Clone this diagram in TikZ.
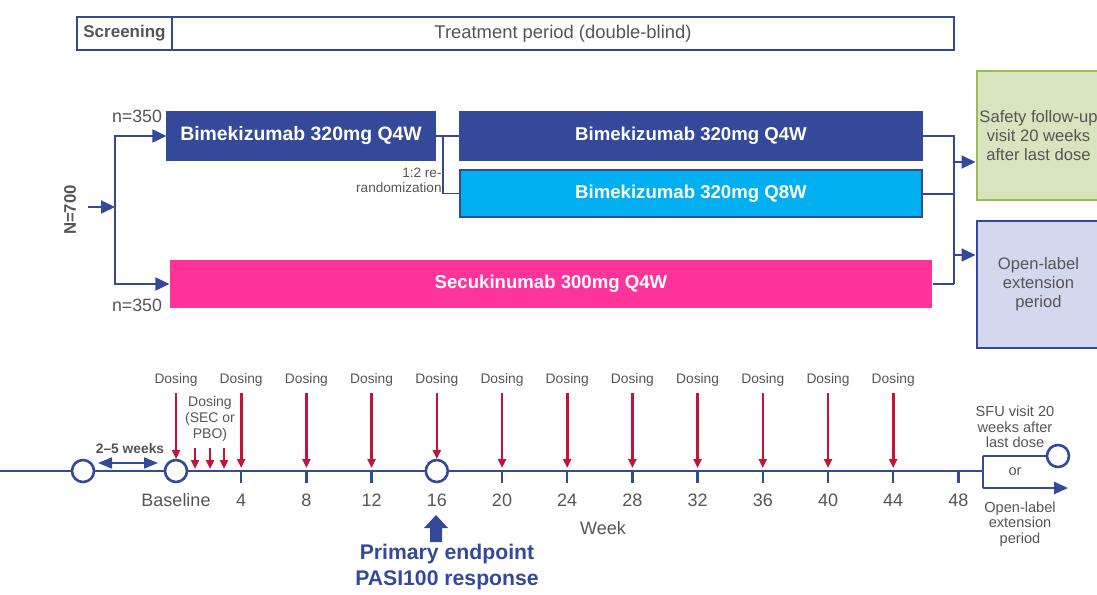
\documentclass[tikz,border=0pt]{standalone}
\usepackage{fontspec}
\setmainfont{Liberation Sans}
\usetikzlibrary{arrows.meta}

\definecolor{navy}{HTML}{34499A}
\definecolor{armcyan}{HTML}{00B0F0}
\definecolor{armpink}{HTML}{FF3399}
\definecolor{sfugreen}{HTML}{D7E4BD}
\definecolor{sfuedge}{HTML}{9BBB59}
\definecolor{olelilac}{HTML}{D3D8EF}
\definecolor{txtgray}{HTML}{555555}
\definecolor{dosered}{HTML}{C0143C}

\newcommand{\fs}[2]{\fontsize{#1}{#2}\selectfont}

\begin{document}
\begin{tikzpicture}[x=0.5pt, y=-0.5pt, >={Triangle[length=7pt,width=6.5pt]},
	every node/.style={text=txtgray, inner sep=0pt, align=center},
	hdrbox/.style={draw=navy, line width=0.7pt, minimum height=16.5pt},
	armbox/.style={draw=navy, line width=0.6pt, text=white, font=\bfseries\fs{9.3}{11}, minimum height=24pt},
	sidebox/.style={line width=1pt, minimum width=62pt, font=\fs{8.3}{9.5}},
	flow/.style={draw=navy, line width=1pt},
	tl/.style={draw=navy, line width=1.2pt},
	dose/.style={-{Triangle[length=4.5pt,width=4pt]}, draw=dosered, line width=1.3pt},
	dosetxt/.style={font=\fs{6.9}{8}},
	wklbl/.style={font=\fs{9}{10}},
	visit/.style={circle, draw=navy, line width=1.3pt, fill=white, minimum size=11pt}]
	\useasboundingbox (0,0) rectangle (1097,594);

	% header bar
	\node[hdrbox, minimum width=47.5pt, font=\bfseries\fs{8.5}{10}] (scr) at (124.5,33.5) {Screening};
	\node[hdrbox, minimum width=391pt, font=\fs{9.2}{11}] (trt) at (563,33.5) {Treatment period (double-blind)};

	% treatment arms
	\node[armbox, fill=navy, minimum width=134pt, font=\bfseries\fs{9.7}{11}] (bkA) at (301,136) {Bimekizumab 320mg Q4W};
	\node[armbox, fill=navy, minimum width=231pt] (bkB) at (691,136) {Bimekizumab 320mg Q4W};
	\node[armbox, fill=armcyan, minimum width=231pt, minimum height=23.5pt] (bkC) at (691,193.5) {Bimekizumab 320mg Q8W};
	\node[armbox, draw=none, fill=armpink, minimum width=381pt] (secu) at (551,284) {Secukinumab 300mg Q4W};

	\node[sidebox, draw=sfuedge, fill=sfugreen, minimum height=64.5pt] (sfu) at (1038.5,135.5) {Safety follow-up\\visit 20 weeks\\after last dose};
	\node[sidebox, draw=navy, fill=olelilac, minimum height=63.5pt] (ole) at (1038.5,284.5) {Open-label\\extension\\period};

	% randomisation
	\node[rotate=90, font=\bfseries\fs{8.4}{10}] (ntot) at (70,210) {N=700};
	\node[font=\fs{8.9}{10}] (nA) at (137,116) {n=350};
	\node[font=\fs{8.9}{10}] (nB) at (137,305) {n=350};
	\coordinate (split) at (115,207);
	\draw[flow, ->] (88,207) -- (split);
	\draw[flow, ->] (split) |- (bkA.west);
	\draw[flow, ->] (split) |- (secu.west);

	\node[anchor=east, align=right, font=\fs{6.8}{7.5}] (rerand) at (442,180) {1:2 re-\\randomization};
	\draw[flow, line width=0.8pt] (bkA.east) -- (bkB.west);
	\draw[flow, line width=0.8pt] (443,136) |- (bkC.west);

	\coordinate (merge) at (954,136);
	\draw[flow] (bkB.east) -- (merge) -- (954,284);
	\draw[flow] (bkC.east) -- (954,193.5);
	\draw[flow] (secu.east) -- (954,284);
	\draw[flow, ->] (954,162) -- (sfu.west |- 0,162);
	\draw[flow, ->] (954,255) -- (ole.west |- 0,255);

	% timeline
	\draw[tl] (0,471) -- (983,471);
	\foreach \w in {4,8,...,48}{
		\pgfmathsetmacro\xx{176+16.3*\w}
		\draw[tl] (\xx,471) -- (\xx,483);
		\node[wklbl] (wk\w) at (\xx,500) {\w};
	}
	\node[wklbl] (wk0) at (176,500) {Baseline};
	\node[wklbl] (week) at (603,528) {Week};

	\node[visit] (scrv) at (83,471) {};
	\node[visit] (base) at (176,471) {};
	\node[visit] (v16) at (436.8,471) {};

	\node[font=\bfseries\fs{6.9}{8}] (gap) at (130,449) {2--5 weeks};
	\draw[{Triangle[length=7pt,width=5.5pt]}-{Triangle[length=7pt,width=5.5pt]}, draw=navy, line width=1pt] (98,463) -- (158,463);

	\foreach \w in {0,4,...,44}{
		\pgfmathsetmacro\xx{176+16.3*\w}
		\pgfmathsetmacro\yy{(\w==0 || \w==16) ? 459 : 468}
		\node[dosetxt] (dose\w) at (\xx,380) {Dosing};
		\draw[dose] (\xx,393) -- (\xx,\yy);
	}
	\node[dosetxt, font=\fs{7}{8}] (doseSEC) at (210,419) {Dosing\\(SEC or\\PBO)};
	\foreach \xx in {195,210,224}
		\draw[dose] (\xx,448) -- (\xx,469);

	% end of study
	\node[visit] (endv) at (1058,456) {};
	\draw[tl] (983,456) -- (983,488);
	\draw[tl] (983,456) -- (endv.west);
	\draw[tl, -{Triangle[length=7pt,width=6pt]}] (983,488) -- (1068,488);
	\node[font=\fs{7.3}{7.8}] (sfutxt) at (1015,427) {SFU visit 20\\weeks after\\last dose};
	\node[font=\fs{7.3}{7.8}] (ortxt) at (1015,472) {or};
	\node[font=\fs{7.3}{7.8}] (oletxt) at (1020,524) {Open-label\\extension\\period};

	% primary endpoint
	\fill[navy] (430,542) -- (430,528) -- (424,528) -- (436,515) -- (448,528) -- (442,528) -- (442,542) -- cycle;
	\node[text=navy, font=\bfseries\fs{10.6}{13}] (prim) at (447,567) {Primary endpoint\\PASI100 response};
\end{tikzpicture}
\end{document}
